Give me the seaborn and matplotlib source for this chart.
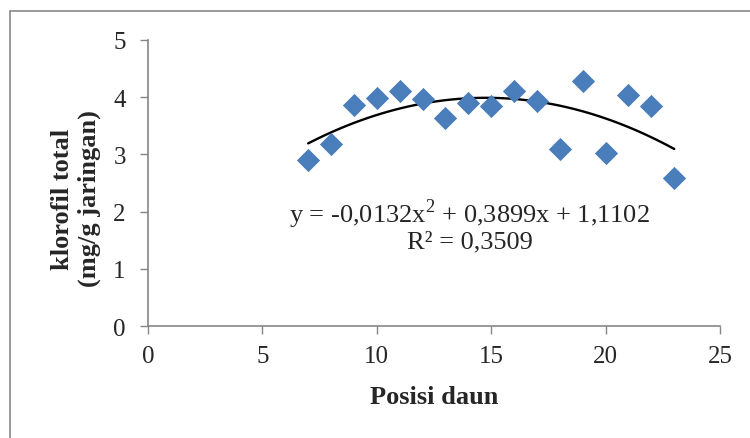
import matplotlib
matplotlib.use("Agg")
import matplotlib.pyplot as plt
import seaborn as sns
import numpy as np
import pandas as pd
from matplotlib.patches import Rectangle

# data
posisi = [7, 8, 9, 10, 11, 12, 13, 14, 15, 16, 17, 18, 19, 20, 21, 22, 23]
klorofil = [2.91, 3.19, 3.87, 3.99, 4.11, 3.96, 3.64, 3.90, 3.85, 4.10,
            3.94, 3.10, 4.28, 3.03, 4.03, 3.84, 2.59]
# polynomial trend line coefficients as printed on the chart
trend_coef = [-0.0132, 0.3899, 1.1102]
eq_label = "y = -0,0132x$^2$ + 0,3899x + 1,1102"
r2_label = "R² = 0,3509"

df = pd.DataFrame({"posisi": posisi, "klorofil": klorofil})

sns.set_style("white")
plt.rcParams["font.family"] = ["Liberation Serif", "DejaVu Serif"]
plt.rcParams["mathtext.fontset"] = "custom"
plt.rcParams["mathtext.rm"] = "Liberation Serif"

fig = plt.figure(figsize=(7.5, 4.39), dpi=100)
ax = fig.add_axes([148 / 750, 1 - 327 / 439, 572 / 750, 286 / 439])

sns.scatterplot(data=df, x="posisi", y="klorofil", marker="D", s=140,
                color="#4a7ebb", linewidth=0, ax=ax, zorder=3)

xs = np.linspace(min(posisi), max(posisi), 100)
ax.plot(xs, np.polyval(trend_coef, xs), color="black", lw=1.7, zorder=2)

ax.set_xlim(0, 25)
ax.set_ylim(0, 5)
ax.set_xticks([0, 5, 10, 15, 20, 25])
ax.set_yticks([0, 1, 2, 3, 4, 5])
ax.tick_params(axis="both", direction="out", length=6, width=1,
               color="#868686", labelsize=18, bottom=True, left=True)
ax.tick_params(axis="x", pad=8)
ax.tick_params(axis="y", pad=10)
for side in ["top", "right"]:
    ax.spines[side].set_visible(False)
for side in ["left", "bottom"]:
    ax.spines[side].set_color("#868686")
    ax.spines[side].set_linewidth(1.2)
ax.set_xlabel("")
ax.set_ylabel("")

ax.text(14.05, 1.98, eq_label, ha="center", va="center", fontsize=19)
ax.text(14.05, 1.47, r2_label, ha="center", va="center", fontsize=19)

fig.text(434 / 750, 1 - 398 / 439, "Posisi daun", ha="center", va="center",
         fontsize=19, fontweight="bold")
fig.text(76 / 750, 1 - 199 / 439, "klorofil total\n(mg/g jaringan)",
         ha="center", va="center", rotation=90, fontsize=19,
         fontweight="bold", multialignment="center", linespacing=1.15)

# chart frame, cut off at the right and bottom like the original
fig.add_artist(Rectangle((10 / 750, -0.05), 1.0, 1.05 - 12 / 439,
                         transform=fig.transFigure, fill=False,
                         edgecolor="#888888", lw=1.2))

fig.savefig("out.png", dpi=100)
